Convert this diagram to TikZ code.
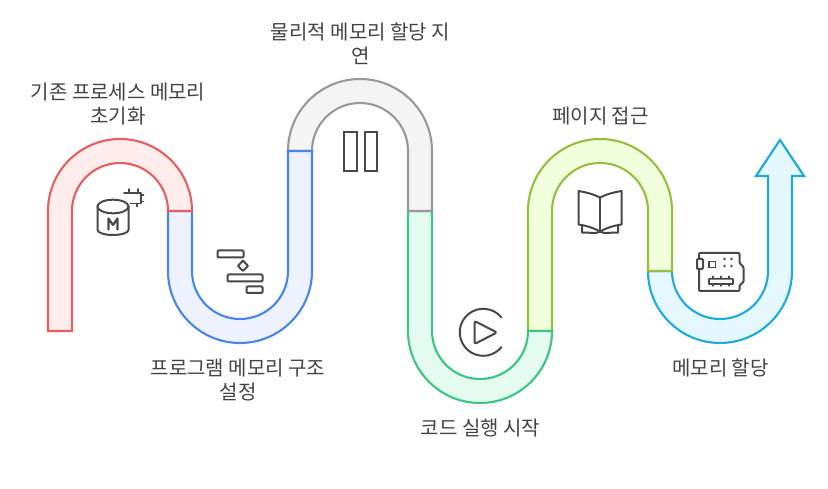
\documentclass[tikz,border=0pt]{standalone}
\usepackage{fontspec}
\setmainfont{Noto Sans CJK KR}
\definecolor{txt}{HTML}{434343}
\definecolor{ic}{HTML}{484848}
\definecolor{rd}{HTML}{E85E5E}\definecolor{rdf}{HTML}{FFEDED}
\definecolor{bl}{HTML}{4A86E8}\definecolor{blf}{HTML}{EDF2FE}
\definecolor{gy}{HTML}{999999}\definecolor{gyf}{HTML}{F4F4F4}
\definecolor{gr}{HTML}{3CC583}\definecolor{grf}{HTML}{E3FCEF}
\definecolor{li}{HTML}{93C13E}\definecolor{lif}{HTML}{F2FFDC}
\definecolor{cy}{HTML}{1EABDA}\definecolor{cyf}{HTML}{E5F8FF}
\tikzset{
  seg/.style={line width=2.1pt,line join=miter},
  lbl/.style={text=txt,font=\fontsize{20}{24}\selectfont,align=center,inner sep=0pt},
  icon/.style={draw=ic,line width=2pt,line join=round,line cap=round},
}
\begin{document}
\begin{tikzpicture}[x=1pt,y=1pt]
\useasboundingbox (0,0) rectangle (828,488);
% ribbon
\draw[seg,draw=cy,fill=cyf] (648,217) arc[start angle=180,end angle=360,radius=72] -- (792,312) -- (804,312) -- (780,348) -- (756,312) -- (768,312) -- (768,217) arc[start angle=0,end angle=-180,radius=48] -- cycle;
\draw[seg,draw=li,fill=lif] (528,157) -- (528,277) arc[start angle=180,end angle=0,radius=72] -- (672,217) -- (648,217) -- (648,277) arc[start angle=0,end angle=180,radius=48] -- (552,157) -- cycle;
\draw[seg,draw=gr,fill=grf] (408,277) -- (408,157) arc[start angle=180,end angle=360,radius=72] -- (528,157) arc[start angle=0,end angle=-180,radius=48] -- (432,277) -- cycle;
\draw[seg,draw=gy,fill=gyf] (288,337) arc[start angle=180,end angle=0,radius=72] -- (432,277) -- (408,277) -- (408,337) arc[start angle=0,end angle=180,radius=48] -- cycle;
\draw[seg,draw=bl,fill=blf] (168,277) -- (168,217) arc[start angle=180,end angle=360,radius=72] -- (312,337) -- (288,337) -- (288,217) arc[start angle=0,end angle=-180,radius=48] -- (192,277) -- cycle;
\draw[seg,draw=rd,fill=rdf] (48,157) -- (48,277) arc[start angle=180,end angle=0,radius=72] -- (168,277) arc[start angle=0,end angle=180,radius=48] -- (72,157) -- cycle;
\begin{scope}[yscale=-1,yshift=-488pt]
% labels
\node[lbl] (t1) at (118,104) {기존 프로세스 메모리\\초기화};
\node[lbl] (t2) at (238,380) {프로그램 메모리 구조\\설정};
\node[lbl] (t3) at (360.5,44) {물리적 메모리 할당 지\\연};
\node[lbl] (t4) at (480.5,428) {코드 실행 시작};
\node[lbl] (t5) at (600.5,116) {페이지 접근};
\node[lbl] (t6) at (720.5,368) {메모리 할당};
% database + chip
\draw[icon] (97.5,206) -- (97.5,230) .. controls (97.5,232.5) and (104,235) .. (113,235) .. controls (122,235) and (128.5,232.5) .. (128.5,230) -- (128.5,206);
\draw[icon] (113,206.5) ellipse[x radius=15.5,y radius=6.8];
\draw[icon,line width=2.2pt] (108.5,229.5) -- (108.5,218.5) -- (113,225) -- (117.5,218.5) -- (117.5,229.5);
\draw[icon,line width=1.7pt] (124,192.7) -- (141,192.7) -- (141,203.5) -- (130.5,203.5);
\draw[icon,line width=1.7pt] (129,189) -- (129,192.7) (138,189) -- (138,192.7) (141,195) -- (143.5,195) (141,201.5) -- (143.5,201.5) (137,203.5) -- (137,206.5);
% gantt
\draw[icon,rounded corners=1pt] (217.5,250.5) rectangle (243.5,257.5);
\draw[icon,rounded corners=.5pt] (243,260.5) -- (248,266) -- (243,271) -- (238,266) -- cycle;
\draw[icon,rounded corners=1pt] (227.5,274.5) rectangle (262.5,281.5);
\draw[icon,rounded corners=1pt] (246.5,286.5) rectangle (262.5,293);
% pause
\draw[icon,line join=miter] (344,132.5) rectangle (356.5,171);
\draw[icon,line join=miter] (364.5,132.5) rectangle (377,171);
% play
\draw[icon] (501.5,317.5) arc[start angle=-39,end angle=-321,radius=23.5];
\draw[icon,rounded corners=2pt] (474.5,321) -- (497,332.5) -- (474.5,344) -- cycle;
% book
\draw[icon] (600,197.5) -- (600,231.5);
\draw[icon] (600,197.5) .. controls (593,194) and (585,192) .. (578.5,191) -- (578.5,224.5) .. controls (586,225.5) and (594,228) .. (600,231.5) .. controls (606,228) and (614,225.5) .. (621.5,224.5) -- (621.5,191) .. controls (615,192) and (607,194) .. (600,197.5);
\draw[icon] (582,226) -- (582,232.5) -- (596,233) -- (600,231.5) -- (604,233) -- (618,232.5) -- (618,226);
% board
\draw[icon,rounded corners=1pt] (699,253) -- (739.5,253) -- (739.5,263) -- (743.5,267) -- (743.5,282) -- (739.5,285.5) -- (739.5,291) -- (699,291) -- cycle;
\draw[icon,fill=white,rounded corners=1pt] (697,259) rectangle (703,269);
\draw[icon,line width=1.8pt,line join=miter] (709,261.5) rectangle (715.5,267.5);
\foreach \x in {724.5,731.5} \foreach \y in {259,266} \fill[ic] (\x,\y) circle[radius=1.3pt];
\draw[icon,line width=1.8pt,rounded corners=.5pt] (709,278.8) rectangle (733,284);
\draw[icon,line width=1.3pt] (713,276.3) -- (713,278.8) (713,284) -- (713,286) (721,276.3) -- (721,278.8) (721,284) -- (721,286) (729,276.3) -- (729,278.8) (729,284) -- (729,286);
\end{scope}
\end{tikzpicture}
\end{document}
